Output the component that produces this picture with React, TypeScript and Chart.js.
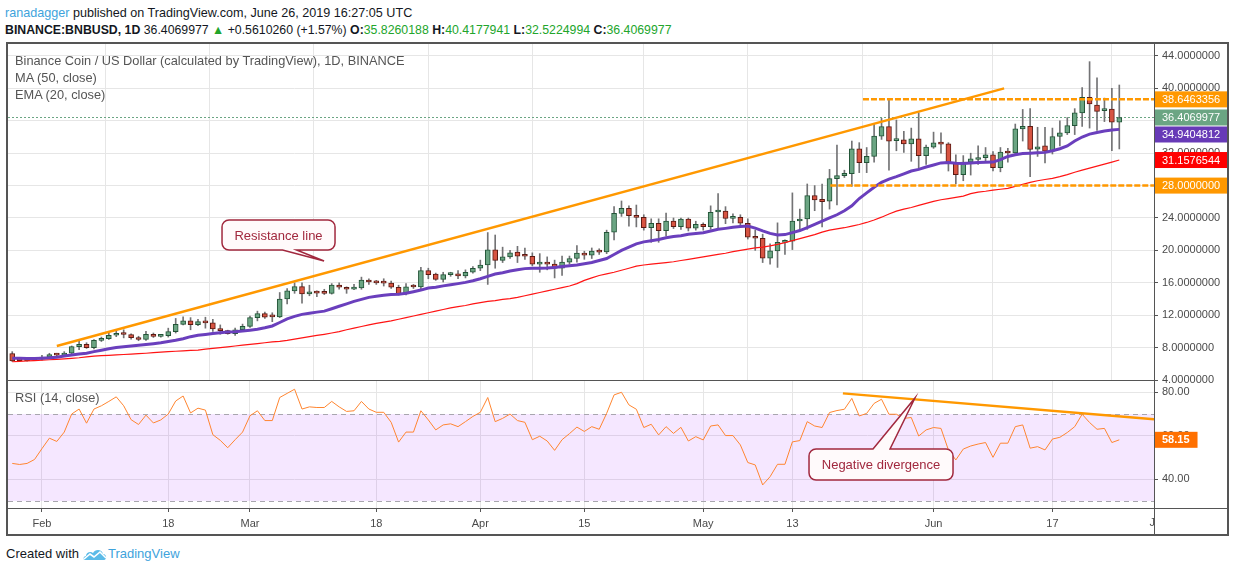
import React, { useEffect, useRef } from 'react';
import { Chart, registerables } from 'chart.js';

Chart.register(...registerables);

// ---------------- data ----------------
// candle index 0 = 2019-01-28 (daily), last = 2019-06-26
const TICK_INDEX = [4, 21, 32, 49, 63, 77, 93, 105, 124, 140, 154];
const TICK_LABELS = ['Feb', '18', 'Mar', '18', 'Apr', '15', 'May', '13', 'Jun', '17', 'Jul'];

const OPEN = [
  7.27, 6.44, 6.40, 6.44, 6.58, 6.82, 7.15, 7.08, 7.30, 8.13,
  8.40, 8.00, 8.90, 9.10, 9.52, 9.77, 9.62, 9.22, 9.00, 9.64,
  9.38, 9.48, 9.97, 10.87, 11.32, 10.83, 11.20, 11.05, 10.30, 10.10,
  9.73, 10.20, 10.63, 11.70, 12.20, 11.82, 11.80, 14.00, 15.00, 15.53,
  14.63, 14.90, 14.72, 14.70, 15.72, 15.45, 15.22, 15.38, 16.35, 16.05,
  16.00, 15.98, 15.45, 14.63, 15.52, 15.48, 17.50, 17.08, 16.43, 17.00,
  17.03, 16.85, 17.30, 17.80, 18.20, 20.07, 18.76, 19.20, 19.80, 19.30,
  19.28, 18.30, 18.56, 18.30, 17.82, 18.56, 19.00, 19.67, 19.42, 19.91,
  19.80, 22.24, 24.57, 25.19, 24.33, 24.08, 22.81, 23.35, 22.45, 23.63,
  22.94, 23.88, 22.73, 23.22, 22.94, 24.74, 24.86, 23.96, 24.08, 23.35,
  21.63, 21.50, 19.05, 19.95, 21.00, 21.15, 23.63, 23.88, 26.77, 26.30,
  26.08, 28.86, 29.23, 29.48, 32.54, 30.82, 31.60, 34.10, 35.28, 33.55,
  33.65, 33.15, 33.77, 31.68, 32.75, 33.28, 33.15, 30.75, 29.36, 30.90,
  31.22, 31.44, 31.80, 30.22, 32.14, 32.02, 35.00, 35.33, 32.50, 32.90,
  32.26, 34.06, 34.50, 35.40, 36.97, 38.90, 37.95, 37.25, 37.46, 35.8260188,
];
const HIGH = [
  7.50, 6.55, 6.52, 6.70, 7.06, 7.30, 7.30, 7.50, 8.20, 8.90,
  8.60, 9.00, 9.30, 9.80, 10.20, 10.20, 9.70, 9.40, 10.00, 9.80,
  9.65, 10.40, 11.60, 11.80, 11.70, 11.50, 11.75, 11.50, 10.80, 10.15,
  10.40, 10.90, 11.90, 12.50, 12.40, 12.30, 14.80, 15.30, 16.00, 16.00,
  15.70, 15.00, 15.20, 15.90, 16.00, 15.50, 15.80, 16.70, 16.50, 16.30,
  16.50, 16.20, 15.70, 15.90, 15.80, 17.90, 17.80, 17.20, 17.30, 17.30,
  17.50, 17.60, 18.00, 18.80, 22.20, 21.90, 20.40, 20.00, 20.50, 20.30,
  19.70, 19.60, 19.20, 18.80, 19.30, 19.30, 20.60, 19.90, 20.30, 20.20,
  22.50, 25.40, 26.10, 25.50, 25.60, 24.40, 23.90, 23.90, 24.60, 24.00,
  24.00, 24.00, 23.60, 23.40, 25.50, 27.00, 25.40, 24.50, 24.40, 23.90,
  22.50, 22.00, 20.80, 23.40, 21.30, 27.10, 25.10, 28.20, 28.00, 28.20,
  30.00, 33.00, 29.90, 33.50, 33.30, 32.70, 35.60, 36.30, 38.70, 36.10,
  34.70, 35.10, 37.00, 33.00, 34.60, 34.50, 33.30, 31.80, 31.70, 32.00,
  32.90, 32.70, 32.20, 32.70, 32.60, 35.60, 37.40, 37.50, 35.20, 35.20,
  35.10, 36.00, 36.40, 37.50, 40.10, 43.30, 41.30, 38.80, 40.00, 40.4177941,
];
const LOW = [
  6.29, 6.33, 6.34, 6.40, 6.45, 6.72, 6.95, 7.00, 7.22, 7.75,
  7.90, 7.85, 8.75, 9.00, 9.35, 9.20, 9.05, 8.85, 8.90, 9.25,
  9.30, 9.30, 9.80, 10.80, 10.20, 10.70, 10.40, 10.00, 9.65, 9.65,
  9.50, 10.10, 10.50, 11.30, 11.60, 11.20, 11.70, 13.40, 14.70, 13.50,
  14.40, 14.30, 14.55, 14.60, 15.20, 14.70, 15.15, 15.20, 15.80, 15.80,
  15.60, 15.30, 14.50, 14.50, 15.30, 15.10, 16.50, 16.30, 16.10, 16.80,
  16.50, 16.60, 17.20, 17.50, 15.80, 17.80, 18.50, 19.00, 18.50, 18.90,
  18.10, 17.30, 17.60, 16.60, 16.90, 18.30, 18.56, 18.90, 19.00, 19.50,
  19.60, 21.30, 24.20, 23.00, 22.90, 22.50, 21.00, 21.00, 21.80, 22.70,
  22.60, 22.40, 22.50, 22.50, 22.60, 22.70, 23.30, 23.40, 22.90, 21.40,
  20.00, 18.50, 18.30, 17.90, 19.50, 20.10, 22.40, 22.60, 24.90, 22.90,
  25.10, 25.60, 29.00, 27.90, 29.60, 29.60, 30.90, 33.70, 29.90, 32.30,
  32.10, 31.00, 30.00, 30.60, 32.60, 32.00, 29.80, 28.20, 28.60, 29.30,
  30.60, 30.90, 29.80, 29.70, 30.90, 31.80, 33.50, 29.10, 31.60, 30.80,
  31.90, 32.90, 34.30, 34.30, 35.30, 35.10, 34.80, 35.90, 32.30, 32.5224994,
];
const CLOSE = [
  6.37, 6.40, 6.44, 6.58, 6.82, 7.15, 7.08, 7.30, 8.13, 8.40,
  8.00, 8.90, 9.10, 9.52, 9.77, 9.62, 9.22, 9.00, 9.64, 9.38,
  9.48, 9.97, 10.87, 11.32, 10.83, 11.20, 11.05, 10.30, 10.10, 9.73,
  10.20, 10.63, 11.70, 12.20, 11.77, 11.80, 14.00, 15.00, 15.53, 14.63,
  14.90, 14.72, 14.70, 15.72, 15.45, 15.20, 15.38, 16.35, 16.10, 16.00,
  15.96, 15.45, 14.63, 15.50, 15.48, 17.50, 17.00, 16.43, 17.00, 17.03,
  16.85, 17.30, 17.80, 18.20, 20.07, 18.76, 19.20, 19.70, 19.30, 19.28,
  18.30, 18.56, 18.30, 17.82, 18.56, 19.00, 19.67, 19.42, 19.91, 19.78,
  22.24, 24.57, 25.19, 24.29, 24.08, 22.81, 23.35, 22.45, 23.63, 22.94,
  23.88, 22.73, 23.22, 22.94, 24.70, 24.86, 23.96, 24.08, 23.35, 21.63,
  21.50, 19.05, 19.95, 21.00, 21.15, 23.63, 23.88, 26.77, 26.24, 26.00,
  28.86, 29.23, 29.52, 32.54, 30.82, 31.60, 34.10, 35.28, 33.48, 33.70,
  33.15, 33.77, 31.68, 32.75, 33.28, 33.12, 30.75, 29.36, 30.90, 31.30,
  31.44, 31.80, 30.22, 32.14, 32.02, 35.00, 35.33, 32.46, 32.80, 32.26,
  34.06, 34.50, 35.40, 36.97, 38.90, 38.07, 37.17, 37.46, 35.8260188, 36.4069977,
];
const EMA20 = [
  6.70, 6.68, 6.66, 6.66, 6.69, 6.74, 6.82, 6.95, 7.08, 7.20,
  7.30, 7.50, 7.68, 7.85, 8.00, 8.10, 8.20, 8.28, 8.38, 8.48,
  8.60, 8.75, 8.90, 9.10, 9.35, 9.52, 9.63, 9.73, 9.83, 9.92,
  9.97, 10.05, 10.15, 10.26, 10.45, 10.67, 11.10, 11.55, 11.85, 12.10,
  12.25, 12.38, 12.50, 12.80, 13.10, 13.40, 13.70, 13.95, 14.20, 14.35,
  14.45, 14.55, 14.60, 14.70, 14.90, 15.10, 15.35, 15.45, 15.62, 15.75,
  15.90, 16.05, 16.25, 16.50, 16.80, 17.08, 17.25, 17.45, 17.60, 17.75,
  17.80, 17.80, 17.82, 17.90, 18.00, 18.10, 18.20, 18.35, 18.50, 18.75,
  19.00, 19.50, 20.00, 20.40, 20.80, 21.05, 21.20, 21.35, 21.55, 21.72,
  21.82, 22.00, 22.08, 22.18, 22.40, 22.60, 22.72, 22.85, 22.95, 23.00,
  22.75, 22.40, 22.10, 21.90, 21.95, 22.20, 22.45, 22.80, 23.20, 23.60,
  24.00, 24.40, 24.90, 25.50, 26.40, 27.10, 27.80, 28.40, 28.80, 29.10,
  29.45, 29.80, 30.00, 30.30, 30.55, 30.80, 30.85, 30.75, 30.72, 30.80,
  30.85, 30.88, 30.90, 31.20, 31.60, 31.80, 31.95, 32.00, 32.05, 32.10,
  32.30, 32.55, 32.90, 33.50, 34.00, 34.35, 34.55, 34.75, 34.85, 34.9404812,
];
const MA50 = [
  6.25, 6.30, 6.36, 6.40, 6.45, 6.50, 6.55, 6.62, 6.68, 6.75,
  6.85, 6.95, 7.00, 7.05, 7.10, 7.15, 7.19, 7.25, 7.30, 7.37,
  7.44, 7.50, 7.55, 7.60, 7.65, 7.70, 7.80, 7.90, 8.00, 8.10,
  8.20, 8.30, 8.40, 8.50, 8.60, 8.70, 8.78, 8.90, 9.05, 9.20,
  9.35, 9.50, 9.64, 9.80, 9.98, 10.20, 10.40, 10.60, 10.80, 10.98,
  11.15, 11.30, 11.50, 11.70, 11.90, 12.10, 12.30, 12.50, 12.70, 12.90,
  13.05, 13.20, 13.40, 13.55, 13.70, 13.80, 13.95, 14.05, 14.20, 14.40,
  14.60, 14.80, 15.00, 15.20, 15.40, 15.60, 15.90, 16.30, 16.60, 16.90,
  17.10, 17.30, 17.55, 17.80, 18.05, 18.20, 18.30, 18.40, 18.50, 18.60,
  18.75, 18.90, 19.05, 19.20, 19.35, 19.50, 19.65, 19.85, 20.00, 20.15,
  20.30, 20.40, 20.55, 20.75, 20.95, 21.20, 21.45, 21.70, 21.95, 22.25,
  22.50, 22.65, 22.80, 23.00, 23.20, 23.45, 23.75, 24.10, 24.50, 24.85,
  25.10, 25.30, 25.55, 25.80, 26.05, 26.25, 26.40, 26.55, 26.70, 27.00,
  27.20, 27.30, 27.45, 27.55, 27.65, 27.90, 28.15, 28.40, 28.60, 28.75,
  28.90, 29.10, 29.35, 29.65, 29.90, 30.15, 30.40, 30.65, 30.90, 31.1576544,
];
const RSI14 = [
  47.3, 46.8, 47.3, 49.1, 54.1, 58.9, 57.4, 61.7, 70.0, 72.3,
  65.8, 72.3, 73.8, 75.8, 77.9, 73.8, 67.4, 65.2, 69.5, 65.9,
  67.3, 70.0, 76.0, 78.3, 70.5, 72.7, 71.8, 60.5, 57.9, 54.5,
  58.2, 61.7, 69.2, 71.5, 67.0, 67.0, 77.6, 79.5, 81.4, 72.3,
  73.3, 73.0, 73.0, 75.8, 73.3, 71.2, 71.5, 75.8, 72.3, 70.8,
  70.8, 66.2, 57.1, 61.7, 61.7, 71.5, 67.3, 62.7, 65.0, 65.5,
  64.2, 66.5, 68.9, 70.8, 77.6, 66.5, 68.0, 70.0, 67.0, 66.2,
  58.2, 59.8, 57.6, 53.3, 58.2, 61.0, 64.0, 62.0, 64.2, 63.0,
  70.3, 78.8, 80.0, 74.2, 72.2, 63.8, 65.3, 60.4, 64.2, 61.1,
  63.9, 57.6, 59.6, 58.1, 64.5, 65.0, 60.1, 60.1, 55.8, 47.7,
  46.6, 37.4, 41.2, 46.9, 46.9, 57.2, 57.8, 66.5, 64.5, 63.8,
  70.7, 71.6, 72.2, 77.2, 69.1, 70.3, 74.9, 76.8, 69.9, 69.9,
  68.0, 68.4, 59.9, 62.7, 63.8, 63.4, 53.5, 48.9, 53.9, 55.3,
  56.2, 56.9, 50.1, 56.6, 56.6, 64.2, 65.0, 54.3, 55.0, 53.5,
  58.5, 59.3, 61.5, 64.2, 69.9, 66.1, 63.0, 63.4, 56.9, 58.15,
];
const PRICE_TICKS = [4, 8, 12, 16, 20, 24, 28, 32, 36, 40, 44];
const RSI_TICKS = [40, 60, 80];
const RSI_BAND = [30, 70];
const RESISTANCE_LEVEL = 38.6463356;
const SUPPORT_LEVEL = 28.0;

// drawings (in data units: x = candle index, y = price / RSI)
const X_MIN = -0.57;
const X_MAX = 153.67;
const PRICE_MIN = 4.0;
const PRICE_MAX = 45.48;
const RSI_MIN = 26.8;
const RSI_MAX = 85.19;
const RESISTANCE_TREND = [{ x: 6.0, y: 8.2 }, { x: 133.5, y: 40.0 }];
const RESISTANCE_LEVEL_FROM = 114.5;
const SUPPORT_LEVEL_FROM = 110.1;
const RSI_TREND = [{ x: 111.8, y: 79.5 }, { x: X_MAX, y: 67.6 }];
const CALLOUT_RES = { text: 'Resistance line', box: { x: 35.84, y: 21.9 }, tip: { x: 41.97, y: 18.69 } };
const CALLOUT_DIV = { text: 'Negative divergence', box: { x: 116.93, y: 46.8 }, tip: { x: 121.5, y: 77.37 } };

// ---------------- styles ----------------
const FONT = "'Liberation Sans', Arial, sans-serif";
const GRID = '#e6e6e6';
const AXIS_TEXT = '#4a4a4a';
const FRAME = '#555555';
const UP_FILL = '#6ba583';
const UP_BORDER = '#225437';
const DOWN_FILL = '#d75442';
const DOWN_BORDER = '#5b1a13';
const WICK = '#737375';
const ORANGE = '#ff9800';
const CALLOUT_COLOR = '#a1283e';

function drawCallout(ctx: CanvasRenderingContext2D, cx: number, cy: number, w: number, h: number,
  tipX: number, tipY: number, a: number, b: number, edge: 'top' | 'bottom', text: string) {
  const l = cx - w / 2;
  const t = cy - h / 2;
  const r = 7;
  ctx.save();
  ctx.beginPath();
  ctx.moveTo(l + r, t);
  if (edge === 'top') {
    ctx.lineTo(cx + a, t);
    ctx.lineTo(tipX, tipY);
    ctx.lineTo(cx + b, t);
  }
  ctx.lineTo(l + w - r, t);
  ctx.arcTo(l + w, t, l + w, t + r, r);
  ctx.lineTo(l + w, t + h - r);
  ctx.arcTo(l + w, t + h, l + w - r, t + h, r);
  if (edge === 'bottom') {
    ctx.lineTo(cx + b, t + h);
    ctx.lineTo(tipX, tipY);
    ctx.lineTo(cx + a, t + h);
  }
  ctx.lineTo(l + r, t + h);
  ctx.arcTo(l, t + h, l, t + h - r, r);
  ctx.lineTo(l, t + r);
  ctx.arcTo(l, t, l + r, t, r);
  ctx.closePath();
  ctx.fillStyle = '#fffafb';
  ctx.fill();
  ctx.lineWidth = 1.5;
  ctx.strokeStyle = CALLOUT_COLOR;
  ctx.stroke();
  ctx.fillStyle = CALLOUT_COLOR;
  ctx.font = `13px ${FONT}`;
  ctx.textAlign = 'center';
  ctx.textBaseline = 'middle';
  ctx.fillText(text, cx, cy + 1);
  ctx.restore();
}

function drawAxisBox(ctx: CanvasRenderingContext2D, x: number, y: number, text: string, color: string, bold: boolean) {
  ctx.save();
  ctx.font = `${bold ? 'bold ' : ''}11px ${FONT}`;
  const w = ctx.measureText(text).width + 16;
  const h = 16;
  ctx.fillStyle = color;
  ctx.fillRect(x, y - h / 2, w, h);
  ctx.fillStyle = '#ffffff';
  ctx.textAlign = 'left';
  ctx.textBaseline = 'middle';
  ctx.fillText(text, x + 8, y + 0.5);
  ctx.restore();
}

const xTicks = (s: any) => {
  s.ticks = TICK_INDEX.filter((v) => v >= X_MIN && v <= X_MAX).map((v) => ({ value: v }));
};
const noPad = (s: any) => {
  s.paddingTop = 0;
  s.paddingBottom = 0;
  s.paddingLeft = 0;
  s.paddingRight = 0;
};

export default function App() {
  const mainRef = useRef<HTMLCanvasElement>(null);
  const rsiRef = useRef<HTMLCanvasElement>(null);

  useEffect(() => {
    Chart.defaults.font.family = FONT;
    const last = CLOSE.length - 1;
    const idx = CLOSE.map((_, i) => i);

    const mainPlugin = {
      id: 'mainDrawings',
      beforeDatasetsDraw(chart: any) {
        const { ctx, chartArea, scales } = chart;
        const y = scales.y.getPixelForValue(CLOSE[last]);
        ctx.save();
        ctx.strokeStyle = UP_FILL;
        ctx.lineWidth = 1;
        ctx.setLineDash([2, 2]);
        ctx.beginPath();
        ctx.moveTo(chartArea.left, Math.round(y) + 0.5);
        ctx.lineTo(chartArea.right, Math.round(y) + 0.5);
        ctx.stroke();
        ctx.restore();
      },
      afterDraw(chart: any) {
        const { ctx, chartArea, scales } = chart;
        const xs = scales.x;
        const ys = scales.y;
        drawCallout(ctx, xs.getPixelForValue(CALLOUT_RES.box.x), ys.getPixelForValue(CALLOUT_RES.box.y), 113, 30,
          xs.getPixelForValue(CALLOUT_RES.tip.x), ys.getPixelForValue(CALLOUT_RES.tip.y), 4, 18, 'bottom', CALLOUT_RES.text);
        const items = [
          { v: RESISTANCE_LEVEL, c: ORANGE },
          { v: CLOSE[last], c: UP_FILL },
          { v: EMA20[last], c: '#673ab7' },
          { v: MA50[last], c: '#ff0000' },
          { v: SUPPORT_LEVEL, c: ORANGE },
        ].map((it) => ({ ...it, y: ys.getPixelForValue(it.v) })).sort((p, q) => p.y - q.y);
        let prevBottom = -1e9;
        items.forEach((it) => {
          let y = it.y;
          if (y - 8 < prevBottom + 1) y = prevBottom + 1 + 8;
          prevBottom = y + 8;
          drawAxisBox(ctx, chartArea.right, y, it.v.toFixed(7), it.c, false);
        });
      },
    };

    const main = new Chart(mainRef.current as HTMLCanvasElement, {
      type: 'bar',
      data: {
        datasets: [
          {
            type: 'line', label: 'EMA (20, close)', data: idx.map((i) => ({ x: i, y: EMA20[i] })),
            borderColor: '#6a3fbd', borderWidth: 3, pointRadius: 0, order: 2,
          },
          {
            type: 'line', label: 'MA (50, close)', data: idx.map((i) => ({ x: i, y: MA50[i] })),
            borderColor: '#ff1414', borderWidth: 1.2, pointRadius: 0, order: 3,
          },
          {
            type: 'line', label: 'Resistance line', data: RESISTANCE_TREND,
            borderColor: ORANGE, borderWidth: 2.5, pointRadius: 0, order: 1,
          },
          {
            type: 'line', label: 'Level high', data: [{ x: RESISTANCE_LEVEL_FROM, y: RESISTANCE_LEVEL }, { x: X_MAX, y: RESISTANCE_LEVEL }],
            borderColor: ORANGE, borderWidth: 2.5, borderDash: [6, 2], pointRadius: 0, order: 1,
          },
          {
            type: 'line', label: 'Level low', data: [{ x: SUPPORT_LEVEL_FROM, y: SUPPORT_LEVEL }, { x: X_MAX, y: SUPPORT_LEVEL }],
            borderColor: ORANGE, borderWidth: 2.5, borderDash: [6, 2], pointRadius: 0, order: 1,
          },
          {
            type: 'bar', label: 'wick', data: idx.map((i) => ({ x: i, y: [LOW[i], HIGH[i]] })),
            backgroundColor: WICK, barThickness: 1, grouped: false, order: 6,
          } as any,
          {
            type: 'bar', label: 'body', data: idx.map((i) => ({ x: i, y: [OPEN[i], CLOSE[i]] })),
            backgroundColor: idx.map((i) => (CLOSE[i] >= OPEN[i] ? UP_FILL : DOWN_FILL)),
            borderColor: idx.map((i) => (CLOSE[i] >= OPEN[i] ? UP_BORDER : DOWN_BORDER)),
            borderWidth: 1, borderSkipped: false, barThickness: 5, minBarLength: 2, grouped: false, order: 5,
          } as any,
        ],
      },
      options: {
        animation: false,
        responsive: true,
        maintainAspectRatio: false,
        events: [],
        layout: { autoPadding: false, padding: { left: 8, right: 6, top: 0, bottom: 8 } },
        plugins: { legend: { display: false }, tooltip: { enabled: false } },
        scales: {
          x: {
            type: 'linear', min: X_MIN, max: X_MAX, offset: false,
            afterBuildTicks: xTicks,
            ticks: { display: false },
            grid: { color: GRID, drawTicks: false },
            border: { display: false },
            afterFit: (s: any) => { s.height = 0; noPad(s); },
          },
          y: {
            type: 'linear', position: 'right', min: PRICE_MIN, max: PRICE_MAX,
            afterBuildTicks: (s: any) => { s.ticks = PRICE_TICKS.map((v) => ({ value: v })); },
            ticks: { callback: (v: any) => Number(v).toFixed(7), color: AXIS_TEXT, font: { size: 11 }, padding: 4 },
            grid: { color: GRID, tickColor: FRAME, tickLength: 4, drawTicks: true },
            border: { display: false },
            afterFit: (s: any) => { s.width = 74; noPad(s); },
          },
        },
      } as any,
      plugins: [mainPlugin],
    });

    const rsiPlugin = {
      id: 'rsiDrawings',
      beforeDatasetsDraw(chart: any) {
        const { ctx, chartArea, scales } = chart;
        const y1 = scales.y.getPixelForValue(RSI_BAND[1]);
        const y0 = scales.y.getPixelForValue(RSI_BAND[0]);
        ctx.save();
        ctx.fillStyle = 'rgba(153, 21, 255, 0.1)';
        ctx.fillRect(chartArea.left, y1, chartArea.right - chartArea.left, y0 - y1);
        ctx.strokeStyle = '#a8a6ae';
        ctx.lineWidth = 1;
        ctx.setLineDash([5, 4]);
        [y1, y0].forEach((y) => {
          ctx.beginPath();
          ctx.moveTo(chartArea.left, Math.round(y) + 0.5);
          ctx.lineTo(chartArea.right, Math.round(y) + 0.5);
          ctx.stroke();
        });
        ctx.restore();
      },
      afterDraw(chart: any) {
        const { ctx, chartArea, scales } = chart;
        const xs = scales.x;
        const ys = scales.y;
        drawCallout(ctx, xs.getPixelForValue(CALLOUT_DIV.box.x), ys.getPixelForValue(CALLOUT_DIV.box.y), 144, 31,
          xs.getPixelForValue(CALLOUT_DIV.tip.x), ys.getPixelForValue(CALLOUT_DIV.tip.y), -8, 9, 'top', CALLOUT_DIV.text);
        drawAxisBox(ctx, chartArea.right, ys.getPixelForValue(RSI14[last]), RSI14[last].toFixed(2), '#ff7000', true);
        const j = TICK_INDEX.length - 1;
        ctx.save();
        ctx.beginPath();
        ctx.rect(chartArea.left, chartArea.bottom + 1, chartArea.right - chartArea.left, 26);
        ctx.clip();
        ctx.fillStyle = AXIS_TEXT;
        ctx.font = `11px ${FONT}`;
        ctx.textAlign = 'center';
        ctx.textBaseline = 'middle';
        ctx.fillText(TICK_LABELS[j], xs.getPixelForValue(TICK_INDEX[j]), chartArea.bottom + 15);
        ctx.restore();
      },
    };

    const rsi = new Chart(rsiRef.current as HTMLCanvasElement, {
      type: 'line',
      data: {
        datasets: [
          {
            label: 'RSI (14, close)', data: idx.map((i) => ({ x: i, y: RSI14[i] })),
            borderColor: '#ff8530', borderWidth: 1, pointRadius: 0, order: 2,
          },
          {
            label: 'RSI trend', data: RSI_TREND,
            borderColor: ORANGE, borderWidth: 2.5, pointRadius: 0, order: 1,
          },
        ],
      },
      options: {
        animation: false,
        responsive: true,
        maintainAspectRatio: false,
        events: [],
        layout: { autoPadding: false, padding: { left: 8, right: 6, top: 1, bottom: 0 } },
        plugins: { legend: { display: false }, tooltip: { enabled: false } },
        scales: {
          x: {
            type: 'linear', min: X_MIN, max: X_MAX, offset: false,
            afterBuildTicks: xTicks,
            ticks: {
              autoSkip: false, maxRotation: 0, color: AXIS_TEXT, font: { size: 11 }, padding: 5,
              callback: (v: any) => TICK_LABELS[TICK_INDEX.indexOf(Number(v))],
            },
            grid: { color: GRID, tickColor: FRAME, tickLength: 4, drawTicks: true },
            border: { display: false },
            afterFit: (s: any) => { s.height = 27; noPad(s); },
          },
          y: {
            type: 'linear', position: 'right', min: RSI_MIN, max: RSI_MAX,
            afterBuildTicks: (s: any) => { s.ticks = RSI_TICKS.map((v) => ({ value: v })); },
            ticks: { callback: (v: any) => Number(v).toFixed(2), color: AXIS_TEXT, font: { size: 11 }, padding: 4 },
            grid: { color: GRID, tickColor: FRAME, tickLength: 4, drawTicks: true },
            border: { display: false },
            afterFit: (s: any) => { s.width = 74; noPad(s); },
          },
        },
      } as any,
      plugins: [rsiPlugin],
    });

    return () => {
      main.destroy();
      rsi.destroy();
    };
  }, []);

  const text: React.CSSProperties = { position: 'absolute', fontFamily: FONT, fontSize: 12.8, whiteSpace: 'nowrap', lineHeight: '16px' };
  const green = { color: '#22a52b' };
  const line = (l: number, t: number, w: number, h: number): React.CSSProperties => ({
    position: 'absolute', left: l, top: t, width: w, height: h, background: FRAME,
  });

  return (
    <div style={{ position: 'absolute', left: 0, top: 0, width: 1234, height: 572, background: '#ffffff', overflow: 'hidden' }}>
      <div style={{ ...text, left: 5, top: 5, fontSize: 12.6, color: '#131722' }}>
        <span style={{ color: '#3ea3dc' }}>ranadagger</span> published on TradingView.com, June 26, 2019 16:27:05 UTC
      </div>
      <div style={{ ...text, left: 5, top: 22, fontSize: 12.3, color: '#131722' }}>
        <b>BINANCE:BNBUSD, 1D</b> 36.4069977 <span style={green}>▲</span> +0.5610260 (+1.57%) <b>O:</b><span style={green}>35.8260188</span> <b>H:</b><span style={green}>40.4177941</span> <b>L:</b><span style={green}>32.5224994</span> <b>C:</b><span style={green}>36.4069977</span>
      </div>

      <div style={{ position: 'absolute', left: 0, top: 380, width: 1234, height: 155 }}>
        <canvas ref={rsiRef} />
      </div>
      <div style={{ position: 'absolute', left: 0, top: 44, width: 1234, height: 344 }}>
        <canvas ref={mainRef} />
      </div>

      <div style={{ ...text, left: 15, top: 53, color: '#555' }}>Binance Coin / US Dollar (calculated by TradingView), 1D, BINANCE</div>
      <div style={{ ...text, left: 15, top: 70, color: '#555' }}>MA (50, close)</div>
      <div style={{ ...text, left: 15, top: 87, color: '#555' }}>EMA (20, close)</div>
      <div style={{ ...text, left: 15, top: 390, color: '#555' }}>RSI (14, close)</div>

      <div style={line(6, 42, 1222, 2)} />
      <div style={line(6, 534, 1222, 2)} />
      <div style={line(6, 42, 2, 494)} />
      <div style={line(1227, 42, 2, 494)} />
      <div style={line(8, 380, 1146, 1)} />
      <div style={line(8, 508, 1220, 1)} />
      <div style={line(1154, 44, 1, 491)} />

      <div style={{ ...text, left: 6, top: 546, fontSize: 13, color: '#131722', display: 'flex', alignItems: 'center' }}>
        <span>Created with</span>
        <svg width="24" height="14" viewBox="0 0 24 14" style={{ margin: '0 1px 0 4px' }}>
          <path d="M2 13 C0 13 0 9 3 9 C3 5 8 4 10 6 C12 2 19 2 20 7 C24 7 24 13 21 13 Z" fill="#5bbbe8" />
          <path d="M1 12 L7 7 L11 10 L17 5 L23 11" stroke="#ffffff" strokeWidth="1.6" fill="none" />
        </svg>
        <span style={{ color: '#3ea3dc' }}>TradingView</span>
      </div>
    </div>
  );
}
